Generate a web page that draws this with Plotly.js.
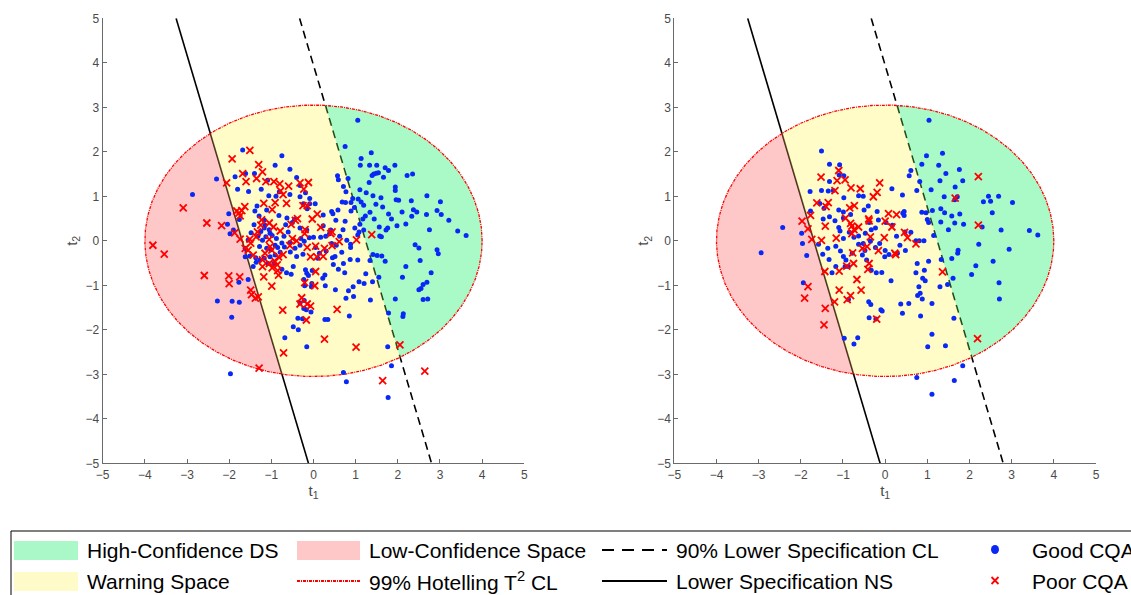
<!DOCTYPE html>
<html>
<head>
<meta charset="utf-8">
<script src="https://cdn.plot.ly/plotly-3.0.1.min.js"></script>
<style>html,body{margin:0;padding:0;background:#fff;}#chart{width:1131px;height:595px;}</style>
</head>
<body>
<div id="chart"></div>
<script>
// ---------- DATA ----------
const hotellingSemiAxes = [4.0, 3.05];           // 99% Hotelling T2 CL ellipse (t1, t2)
const nsLineX = [-3.26, -0.12], nsLineY = [5, -5]; // Lower Specification NS
const clLineX = [-0.33, 2.80], clLineY = [5, -5];  // 90% Lower Specification CL

const goodLeft = [
[1.05,2.71],[0.75,2.12],[1.37,1.98],[1.13,1.85],[1.11,1.70],[1.33,1.70],[1.50,1.70],[1.93,1.70],[1.70,1.64],[1.78,1.58],[1.43,1.50],[1.49,1.52],[1.54,1.53],[1.39,1.47],[2.22,1.47],[2.35,1.50],[1.66,1.43],[0.82,1.40],[1.32,1.31],[1.94,1.21],[1.94,1.13],[1.10,1.15],[1.25,1.08],[1.96,0.92],[2.69,1.01],[1.60,0.97],[2.02,0.91],[2.32,0.90],[3.01,0.88],[1.41,1.01],[1.06,0.94],[1.13,0.87],[1.19,0.80],[1.48,0.82],[1.64,0.76],[2.10,0.65],[2.45,0.65],[2.37,0.70],[2.93,0.68],[3.03,0.59],[2.68,0.59],[2.33,0.55],[2.19,0.38],[3.21,0.46],[3.42,0.22],[3.62,0.12],[2.75,0.25],[1.34,0.64],[1.44,0.49],[1.23,0.56],[1.17,0.49],[1.78,0.60],[1.85,0.49],[1.98,0.34],[1.56,0.31],[1.76,0.29],[1.10,0.37],[1.19,0.24],[1.57,0.11],[1.61,0.09],[1.72,0.24],[2.41,-0.09],[2.50,-0.16],[1.41,-0.31],[1.51,-0.33],[1.62,-0.34],[1.70,-0.46],[2.19,-0.58],[2.53,-0.44],[2.93,-0.20],[2.96,-0.29],[2.79,-0.72],[2.11,-0.82],[1.55,-0.82],[1.94,-1.31],[2.60,-0.98],[2.69,-0.93],[2.55,-1.07],[2.50,-1.10],[2.60,-1.32],[2.71,-1.31],[2.13,-1.64],[2.12,-1.70],[1.78,-1.62],
[-1.68,2.04],[-0.75,1.91],[-0.91,1.70],[-0.56,1.61],[-0.40,1.42],[-1.61,1.51],[-1.40,1.51],[-1.86,1.44],[-0.32,1.24],[-1.09,1.36],[-1.54,1.11],[-1.24,1.16],[-1.80,1.16],[-0.19,1.08],[-1.06,1.01],[-0.89,1.00],[-0.81,1.10],[-0.56,1.04],[-0.32,0.99],[-0.09,0.95],[-0.24,0.83],[-0.09,0.83],[0.04,0.83],[-0.15,0.72],[-1.34,0.78],[-1.39,0.67],[-1.11,0.69],[-1.29,0.56],[-1.17,0.47],[-1.41,0.36],[-0.82,0.57],[-0.63,0.51],[-0.50,0.41],[-0.45,0.48],[-0.32,0.29],[-0.16,0.24],[0.23,0.34],[0.41,0.24],[0.43,0.66],[0.46,0.61],[0.53,0.46],[0.23,0.58],[0.68,0.87],[0.76,0.86],[0.58,0.69],[0.71,1.22],[0.57,1.46],[0.59,1.37],[0.77,1.10],[0.89,0.67],[0.75,0.44],[0.97,0.75],[0.89,0.86],[0.93,0.95],[0.98,0.29],[1.08,0.20],[1.05,0.13],[0.79,0.01],[0.88,-0.08],[0.88,-0.15],[0.54,-0.10],[0.43,-0.06],[0.29,0.10],[0.38,0.16],[0.17,0.08],[0.00,0.08],[-0.10,0.07],[-0.22,-0.01],[-0.32,-0.10],[-0.44,-0.17],[-0.56,-0.04],[-0.69,-0.14],[-0.79,-0.26],[-0.91,-0.32],[-1.03,-0.36],[-1.17,-0.39],[-1.27,-0.43],[-1.37,-0.38],[-1.51,-0.34],[-1.62,-0.36],[-1.62,-0.17],[-1.21,0.01],[-1.11,-0.17],[-1.01,-0.20],[-0.91,-0.10],[-1.25,0.21],[-1.17,0.29],[-1.03,0.17],[-1.13,0.09],[-1.28,-0.13],[-1.43,-0.58],[-1.36,-0.48],[-1.08,-0.51],[-0.94,-0.51],[-0.75,-0.64],[-0.48,-0.58],[-0.53,-0.75],[-0.64,-0.72],[-0.19,-0.65],[-0.16,-0.73],[-0.03,-0.67],[-0.23,-0.87],[-0.12,-0.78],[0.27,-0.77],[0.22,-0.84],[0.28,-1.01],[-0.04,-0.96],[-0.21,-1.01],[-0.05,-1.03],[-0.22,-1.34],[-0.32,-1.40],[-0.23,-1.52],[-0.17,-1.55],[-0.06,-1.60],[-0.37,-1.74],[-0.26,-1.75],[-0.36,-2.00],[-0.48,-1.93],[-0.16,-2.38],[-0.68,-2.18],[0.27,-1.77],[0.34,-1.77],[0.85,-1.69],[0.77,-1.29],[0.83,-1.12],[0.95,-1.25],[0.94,-1.03],[1.20,-0.96],[1.08,-0.92],[0.74,-0.72],[0.59,-0.64],[0.71,-0.51],[0.87,-0.42],[1.05,-0.43],[0.67,-0.26],[0.45,-0.38],[0.10,-0.39],[0.14,-0.28],[0.30,-0.23],[0.47,-0.53],[0.52,-1.10],[1.35,-1.33],[0.51,-0.35],[1.34,-0.44],[1.24,-0.74],[1.40,-0.92],
[-1.05,0.25],[-0.98,0.12],[-0.88,0.05],[-1.15,0.35],[-0.70,0.10],[-0.60,0.20],[-0.85,-0.15],[-0.75,-0.05],[-1.32,0.10],[-1.48,0.18],[-0.55,-0.25],[-0.40,-0.35],[-0.30,0.05],[-0.66,0.36],[-1.55,0.02],[-0.25,-0.30],[0.05,-0.15],[0.62,0.10],[0.70,0.25],
[-2.87,1.04],[-2.30,1.39],[-2.28,-1.35],[-1.93,-1.36],[-1.76,-1.38],[-1.94,-1.72],[-1.97,-2.99],[-2.01,0.61],[-2.04,0.37],[-1.98,0.16],[-1.77,-0.93],[-1.55,-0.87],[-1.90,0.24],[-1.76,0.48],
[0.71,-2.96],[0.78,-3.17],[1.77,-3.52],[1.85,-2.81],[1.76,-2.38]
];

const poorLeft = [
[-3.81,-0.10],[-3.54,-0.30],[-3.09,0.74],[-2.53,0.40],[-2.18,0.34],[-2.59,-0.78],[-2.01,-0.79],[-2.00,-0.96],[-1.75,-0.81],[-1.29,-2.86],[-1.93,1.84],[-1.51,2.03],[-1.30,1.71],[-1.21,1.55],[-1.68,1.51],[-1.60,1.33],[-2.06,1.30],[-1.70,0.68],[-1.77,0.62],[-1.74,0.56],[-1.82,0.67],[-1.63,0.77],[-1.87,0.18],[-1.74,0.04],[-1.51,0.04],[-1.49,-0.05],[-1.62,-0.17],[-1.35,1.40],[-1.13,1.33],[-0.94,1.33],[-0.80,1.28],[-0.59,1.23],[-0.32,1.30],[-0.12,1.31],[-0.23,1.16],[-0.72,1.04],[-0.64,0.84],[-0.91,0.86],[-1.18,0.84],[-0.98,0.70],[-0.78,1.12],[-0.25,0.79],[-0.15,0.79],[0.09,0.60],[-1.25,0.35],[-1.33,0.20],[-1.36,0.09],[-1.23,0.47],[-1.05,0.40],[-0.95,0.31],[-0.79,0.22],[-0.43,0.46],[-0.38,0.50],[-0.53,0.37],[-0.20,0.25],[-0.03,0.49],[-0.21,0.16],[0.17,0.30],[0.41,0.16],[0.44,0.20],[0.61,-0.02],[1.02,0.02],[1.38,0.14],[0.44,-0.11],[0.23,-0.35],[0.26,-0.17],[0.05,-0.12],[-0.07,-0.36],[0.08,-0.36],[-0.15,-0.15],[-0.56,-0.11],[-0.72,-0.31],[-0.83,-0.36],[-1.03,-0.13],[-1.05,0.03],[-0.99,-0.21],[-1.15,-0.28],[-1.21,-0.43],[-1.05,-0.51],[-0.91,-0.47],[-0.86,-0.54],[-0.85,-0.67],[-0.83,-0.77],[-0.98,-0.61],[-1.18,-0.81],[-1.21,-0.58],[-1.43,-0.32],[-1.55,-0.21],[-0.99,-1.02],[-1.49,-1.11],[-1.47,-1.21],[-1.38,-1.29],[-1.31,-1.26],[-0.21,-0.94],[0.03,-1.01],[0.05,-0.69],[-0.50,0.05],[-0.40,0.00],[-0.73,-1.56],[-0.28,-1.28],[-0.32,-1.42],[-0.15,-1.42],[-0.07,-1.47],[-0.17,-1.78],[-0.71,-2.52],[0.26,-2.21],[0.56,-1.54],[1.01,-2.39],[2.05,-2.34],[1.64,-3.14],[2.64,-2.93]
];

const goodRight = [
[1.04,2.71],[0.98,1.91],[1.36,1.97],[0.87,1.72],[1.27,1.70],[1.44,1.51],[1.76,1.60],[1.84,1.35],[1.30,1.35],[0.61,1.58],[0.57,1.46],[0.82,1.33],[1.09,1.15],[0.75,1.13],[1.66,1.21],[1.40,0.99],[1.65,0.92],[1.71,0.99],[2.45,1.00],[2.69,1.00],[2.33,0.88],[2.50,0.89],[3.02,0.86],[2.54,0.63],[1.32,0.72],[1.41,0.63],[1.12,0.68],[0.97,0.63],[0.87,0.64],[1.00,0.48],[1.03,0.41],[1.32,0.42],[1.58,0.56],[1.77,0.60],[1.65,0.40],[1.86,0.37],[2.30,0.31],[2.75,0.24],[3.42,0.23],[3.62,0.13],[1.50,0.25],[1.15,0.12],[2.22,-0.08],[2.94,-0.19],[2.56,-0.46],[2.15,-0.56],[2.05,-0.76],[1.58,-0.40],[1.72,-0.28],[1.73,-0.21],[1.33,-0.42],[1.48,-0.98],[1.61,-0.84],[1.30,-1.03],[2.70,-0.94],[2.71,-1.31],[1.63,-1.74],[0.75,-3.07],[1.11,-3.45],[1.64,-3.14],[1.84,-2.81],[1.43,-2.36],[1.11,-2.10],[1.01,-2.38],[0.84,-1.69],[0.77,-1.23],[0.83,-1.18],[0.88,-1.31],[0.80,-1.03],[1.11,-1.41],[0.95,-0.90],[0.89,-0.84],[0.73,-0.72],[0.93,-0.66],[0.76,-0.51],[1.03,-0.46],[0.81,0.00],[0.92,0.00],[0.73,0.00],[0.61,0.19],[0.47,0.20],[0.42,0.62],[0.45,0.66],[0.45,0.57],[0.41,1.03],[0.16,1.17],[0.56,-1.41],[0.37,-1.42],[0.41,-1.63],[-0.07,-1.58],[-0.10,-1.55],[-0.22,-1.76],[-0.38,-1.73],[-0.39,-1.37],[-0.34,-1.43],[0.14,-0.90],[-0.08,-0.71],[-0.21,-0.72],[-0.33,-0.66],[-0.65,-2.18],[-0.74,-2.32],[-0.97,-2.19],[-0.87,-1.32],[-0.95,-0.58],[-1.17,-0.58],[-1.26,-0.72],[-1.33,-0.42],[-1.48,-0.30],[-1.58,-0.08],[-1.36,-0.17],[-1.17,-0.12],[-1.06,-0.23],[-0.99,-0.35],[-0.93,-0.43],[-0.87,-0.58],[-0.78,-0.28],[-0.54,-0.32],[-0.44,-0.43],[-0.48,-0.22],[-0.63,-0.08],[-0.52,-0.06],[-0.35,-0.01],[-0.23,-0.15],[-0.13,-0.06],[0.00,-0.22],[-0.01,-0.36],[0.09,-0.31],[0.29,-0.28],[0.48,-0.22],[0.35,-0.10],[0.27,0.10],[0.17,0.35],[0.02,0.41],[-0.16,0.47],[-0.19,0.66],[-0.50,0.69],[-0.40,0.78],[-0.38,0.41],[-0.33,0.25],[-0.23,0.29],[-0.47,0.17],[-0.63,0.11],[-0.74,0.08],[-0.85,0.19],[-0.99,0.05],[-1.07,0.22],[-1.10,0.30],[-1.19,0.45],[-0.99,0.51],[-0.82,0.59],[-0.99,0.65],[-1.10,0.69],[-1.32,0.54],[-1.47,0.49],[-1.45,0.73],[-1.55,0.84],[-1.35,1.12],[-1.23,1.13],[-1.51,1.13],[-1.32,1.33],[-1.09,1.48],[-1.08,1.71],[-1.32,1.72],[-0.98,1.46],[-0.98,0.97],[-0.63,1.01],[-0.52,1.00],[-1.78,1.11],[-1.51,2.02],[-1.77,0.67],[-1.98,0.17],[-1.96,-0.06],[-1.86,-0.33],[-1.94,-0.94],[-2.43,0.30],[-2.94,-0.27]
];

const poorRight = [
[-1.97,0.44],[-1.83,0.27],[-1.74,0.03],[-1.77,0.57],[-1.62,0.85],[-1.35,0.86],[-1.40,0.77],[-1.42,0.33],[-1.51,0.01],[-1.43,-0.69],[-1.09,-0.68],[-1.09,-1.11],[-1.20,-1.37],[-0.90,-1.32],[-0.82,-1.23],[-1.83,-1.03],[-1.91,-1.29],[-1.42,-1.52],[-1.45,-1.89],[-1.52,1.43],[-1.10,1.58],[-1.14,1.35],[-0.95,1.37],[-0.81,1.19],[-0.59,1.17],[-0.28,0.99],[-0.19,1.09],[-0.13,1.30],[-1.19,1.13],[-0.84,0.74],[-0.73,0.79],[-0.94,0.51],[-0.82,0.39],[-0.79,0.33],[-0.74,0.25],[-0.63,0.31],[-0.79,0.16],[-1.16,0.06],[-0.77,-0.27],[-0.75,-0.51],[-0.91,-0.57],[-0.67,-0.87],[-0.57,-1.11],[-0.39,0.49],[-0.38,0.45],[-0.35,0.09],[-0.43,-0.13],[-0.54,-0.17],[-0.38,-0.51],[-0.41,-0.64],[-0.16,-0.22],[0.00,0.44],[0.08,0.61],[0.27,0.59],[0.16,0.31],[-0.02,0.07],[0.25,-0.31],[0.23,-0.28],[0.46,0.19],[0.53,0.07],[0.73,-0.07],[-0.20,-1.76],[1.36,-0.70],[1.66,0.96],[2.21,1.44],[2.21,0.35],[2.19,-2.20]
];

const tickVals = [-5,-4,-3,-2,-1,0,1,2,3,4,5];
const legendLabels = ['High-Confidence DS','Low-Confidence Space','90% Lower Specification CL','Good CQA',
                      'Warning Space','99% Hotelling T<sup>2</sup> CL','Lower Specification NS','Poor CQA'];

// ---------- GEOMETRY ----------
const W = 1131, H = 595;
function ellipsePoly(n){
  const pts=[];
  for(let i=0;i<n;i++){const t=2*Math.PI*i/n; pts.push([hotellingSemiAxes[0]*Math.cos(t), hotellingSemiAxes[1]*Math.sin(t)]);}
  return pts;
}
function clipPoly(poly, lx, ly, sign){
  const x1=lx[0], y1=ly[0], dx=lx[1]-lx[0], dy=ly[1]-ly[0];
  const side=p=>sign*(dx*(p[1]-y1)-dy*(p[0]-x1));
  const out=[];
  for(let i=0;i<poly.length;i++){
    const a=poly[i], b=poly[(i+1)%poly.length], sa=side(a), sb=side(b);
    if(sa>=0) out.push(a);
    if((sa>=0)!==(sb>=0)){const t=sa/(sa-sb); out.push([a[0]+t*(b[0]-a[0]), a[1]+t*(b[1]-a[1])]);}
  }
  return out;
}
const ell = ellipsePoly(720);
const redPoly = clipPoly(ell, nsLineX, nsLineY, -1);
const yellowPoly = clipPoly(clipPoly(ell, nsLineX, nsLineY, 1), clLineX, clLineY, -1);
const greenPoly = clipPoly(ell, clLineX, clLineY, 1);
const closeX = p => p.map(v=>v[0]).concat([p[0][0]]);
const closeY = p => p.map(v=>v[1]).concat([p[0][1]]);

const fills = [
  {poly: redPoly,    color:'rgba(255,98,98,0.35)'},
  {poly: yellowPoly, color:'rgba(255,246,98,0.35)'},
  {poly: greenPoly,  color:'rgba(12,240,98,0.35)'}
];

function panel(xa, ya, good, poor){
  const tr=[];
  tr.push({x:nsLineX, y:nsLineY, xaxis:xa, yaxis:ya, mode:'lines', line:{color:'#000', width:1.6}, hoverinfo:'skip', showlegend:false});
  tr.push({x:clLineX, y:clLineY, xaxis:xa, yaxis:ya, mode:'lines', line:{color:'#000', width:1.6, dash:'8px,5px'}, hoverinfo:'skip', showlegend:false});
  fills.forEach(f=>tr.push({x:closeX(f.poly), y:closeY(f.poly), xaxis:xa, yaxis:ya, mode:'lines', fill:'toself',
     fillcolor:f.color, line:{width:0}, hoverinfo:'skip', showlegend:false}));
  tr.push({x:closeX(ell), y:closeY(ell), xaxis:xa, yaxis:ya, mode:'lines', line:{color:'#ff0000', width:1.3, dash:'3px,1px,1px,1px'}, hoverinfo:'skip', showlegend:false});
  tr.push({x:good.map(p=>p[0]), y:good.map(p=>p[1]), xaxis:xa, yaxis:ya, mode:'markers', name:'Good CQA',
     marker:{symbol:'circle', size:5, color:'#0a28f5'}, showlegend:false});
  tr.push({x:poor.map(p=>p[0]), y:poor.map(p=>p[1]), xaxis:xa, yaxis:ya, mode:'markers', name:'Poor CQA',
     marker:{symbol:'x-thin', size:7, color:'#ff0000', line:{color:'#ff0000', width:1.8}}, showlegend:false});
  return tr;
}

const data = panel('x','y',goodLeft,poorLeft).concat(panel('x2','y2',goodRight,poorRight));

const axBase = {range:[-5,5], tickvals:tickVals, showgrid:false, zeroline:false, showline:true, linecolor:'#6a6a6a', linewidth:1,
  ticks:'inside', ticklen:4, tickcolor:'#6a6a6a', tickfont:{family:'Liberation Sans, Arial, sans-serif', size:12, color:'#4a4a4a'},
  fixedrange:true, mirror:false};
const xTitle = {text:'t<sub>1</sub>', font:{family:'Liberation Sans, Arial, sans-serif', size:15, color:'#4a4a4a'}, standoff:4};
const yTitle = {text:'t<sub>2</sub>', font:{family:'Liberation Sans, Arial, sans-serif', size:15, color:'#4a4a4a'}, standoff:4};

const px = v=>v/W, py = v=>1-v/H;
const shapes = [
  {type:'rect', xref:'paper', yref:'paper', x0:px(11), x1:px(1140), y0:py(600), y1:py(531), line:{color:'#000', width:1}, fillcolor:'rgba(0,0,0,0)'},
  {type:'rect', xref:'paper', yref:'paper', x0:px(14), x1:px(78), y0:py(560), y1:py(541), line:{width:0}, fillcolor:'#aaf7c8'},
  {type:'rect', xref:'paper', yref:'paper', x0:px(14), x1:px(78), y0:py(591), y1:py(572), line:{width:0}, fillcolor:'#fffbc8'},
  {type:'rect', xref:'paper', yref:'paper', x0:px(297), x1:px(360), y0:py(560), y1:py(541), line:{width:0}, fillcolor:'#ffc8c8'},
  {type:'line', xref:'paper', yref:'paper', x0:px(297), x1:px(360), y0:py(581), y1:py(581), line:{color:'#ff0000', width:1.8, dash:'3px,1px,1px,1px'}},
  {type:'line', xref:'paper', yref:'paper', x0:px(602), x1:px(667), y0:py(550), y1:py(550), line:{color:'#000', width:2.2, dash:'12px,8px'}},
  {type:'line', xref:'paper', yref:'paper', x0:px(602), x1:px(667), y0:py(581), y1:py(581), line:{color:'#000', width:2.2}},
  {type:'circle', xref:'paper', yref:'paper', x0:px(991), x1:px(999), y0:py(554), y1:py(545), line:{width:0}, fillcolor:'#0a28f5'},
  {type:'line', xref:'paper', yref:'paper', x0:px(991.5), x1:px(998.5), y0:py(577), y1:py(584), line:{color:'#ff0000', width:1.8}},
  {type:'line', xref:'paper', yref:'paper', x0:px(991.5), x1:px(998.5), y0:py(584), y1:py(577), line:{color:'#ff0000', width:1.8}}
];
const legPos = [[85,550],[367,550],[674,550],[1030,550],[85,581],[367,581],[674,581],[1030,581]];
const annotations = legendLabels.map((t,i)=>({text:t, xref:'paper', yref:'paper', x:px(legPos[i][0]), y:py(legPos[i][1]),
  xanchor:'left', yanchor:'middle', showarrow:false, font:{family:'Liberation Sans, Arial, sans-serif', size:21, color:'#000'}}));

const layout = {
  width:W, height:H, margin:{l:0,r:0,t:0,b:0}, paper_bgcolor:'#fff', plot_bgcolor:'#fff', showlegend:false,
  xaxis: Object.assign({}, axBase, {domain:[102.7/W, 524.3/W], anchor:'y', title:xTitle}),
  yaxis: Object.assign({}, axBase, {domain:[1-463.3/H, 1-18.3/H], anchor:'x', title:yTitle}),
  xaxis2: Object.assign({}, axBase, {domain:[674.3/W, 1096/W], anchor:'y2', title:xTitle}),
  yaxis2: Object.assign({}, axBase, {domain:[1-463.3/H, 1-18.3/H], anchor:'x2', title:yTitle}),
  shapes: shapes, annotations: annotations
};
Plotly.newPlot('chart', data, layout, {staticPlot:true, displayModeBar:false});
</script>
</body>
</html>
